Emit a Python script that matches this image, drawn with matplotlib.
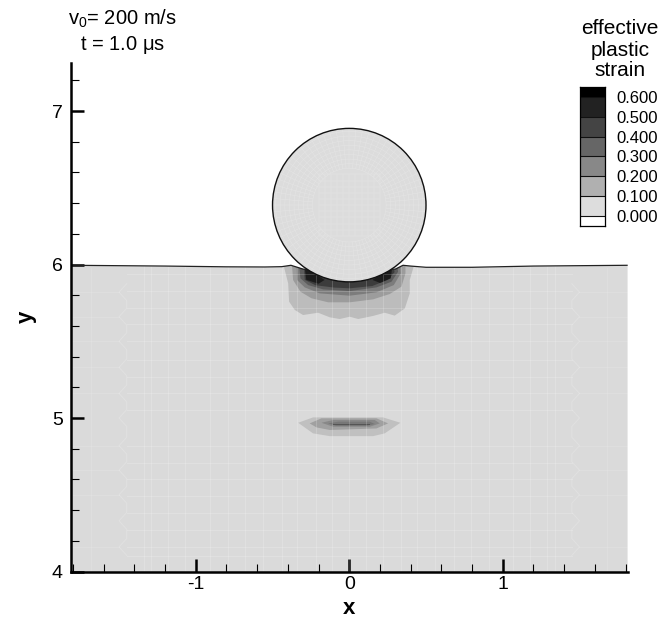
import numpy as np
import matplotlib
matplotlib.use("Agg")
import matplotlib.pyplot as plt
from matplotlib.patches import Circle, Polygon

plt.rcParams['font.family'] = ['Liberation Sans', 'DejaVu Sans']
plt.rcParams['mathtext.fontset'] = 'custom'
plt.rcParams['mathtext.rm'] = 'Liberation Sans'

# surface of the plate
surface_x = [-1.81, -1.2, -0.8, -0.55, -0.44, -0.38, -0.30, 0.30, 0.35, 0.40, 0.5, 0.8, 1.2, 1.81]
surface_y = [5.995, 5.99, 5.985, 5.984, 5.986, 5.995, 5.97, 5.97, 5.995, 5.99, 5.982, 5.982, 5.99, 5.995]

# sphere
sphere_x = 0.0
sphere_y = 6.387
sphere_r = 0.5

# strain bands under the contact
band1_x = [-0.442, -0.398, -0.392, -0.355, -0.301, -0.203, -0.127, -0.062, 0.003, 0.058, 0.155, 0.231, 0.296, 0.362, 0.394, 0.394, 0.438]
band1_y = [6.05, 5.877, 5.758, 5.704, 5.671, 5.686, 5.656, 5.645, 5.660, 5.645, 5.665, 5.686, 5.667, 5.714, 5.812, 5.899, 6.05]
band2_x = [-0.377, -0.366, -0.318, -0.246, -0.138, 0.003, 0.155, 0.264, 0.340, 0.366, 0.366]
band2_y = [6.05, 5.899, 5.823, 5.780, 5.754, 5.754, 5.773, 5.808, 5.856, 5.942, 6.05]
band3_x = [-0.344, -0.340, -0.290, -0.192, 0.003, 0.177, 0.290, 0.335, 0.329]
band3_y = [6.05, 5.899, 5.851, 5.812, 5.797, 5.819, 5.866, 5.942, 6.05]
band4_x = [-0.333, -0.318, -0.268, -0.170, 0.003, 0.177, 0.275, 0.318, 0.307]
band4_y = [6.05, 5.910, 5.866, 5.838, 5.827, 5.851, 5.888, 5.953, 6.05]
band5_x = [-0.30, -0.29, -0.22, -0.10, 0.003, 0.15, 0.25, 0.295, 0.28]
band5_y = [6.05, 5.90, 5.865, 5.85, 5.845, 5.86, 5.90, 5.95, 6.05]
band6a_x = [-0.29, -0.28, -0.20, -0.16]
band6a_y = [5.98, 5.90, 5.875, 5.90]
band6b_x = [0.15, 0.20, 0.27, 0.28]
band6b_y = [5.90, 5.88, 5.91, 5.98]

# strain bands of the second spot
spot1_x = [-0.333, -0.236, 0.220, 0.333, 0.231, 0.155, -0.127, -0.236]
spot1_y = [4.969, 5.004, 5.004, 4.969, 4.900, 4.882, 4.882, 4.900]
spot2_x = [-0.258, -0.181, 0.177, 0.253, 0.177, -0.127, -0.214]
spot2_y = [4.965, 4.998, 4.998, 4.965, 4.932, 4.922, 4.939]
spot3_x = [-0.181, -0.105, 0.166, 0.199, 0.134, -0.105]
spot3_y = [4.969, 4.987, 4.987, 4.965, 4.943, 4.943]
spot4_x = [-0.138, -0.073, 0.134, 0.166, 0.112, -0.084]
spot4_y = [4.965, 4.976, 4.976, 4.961, 4.948, 4.948]
spot5_x = [-0.105, 0.134, 0.134, -0.105]
spot5_y = [4.961, 4.961, 4.952, 4.952]

# mesh lines of the plate
mesh_x = [0.11, 0.22, 0.34, 0.44, 0.56, 0.68, 0.79, 0.91, 1.07, 1.18, 1.29, 1.34]
mesh_y = [4.10, 4.16, 4.27, 4.38, 4.49, 4.60, 4.71, 4.82, 5.05, 5.16, 5.27, 5.38, 5.50, 5.61, 5.72, 5.83, 5.94]
outer_x = [1.68]
outer_y = [4.16, 4.50, 4.66, 4.82, 5.16, 5.33, 5.50, 5.66, 5.82]
zigzag_x = [1.45, 1.50, 1.45, 1.45, 1.50, 1.45, 1.45, 1.50, 1.45, 1.45, 1.50, 1.45, 1.45, 1.50, 1.45, 1.45,
            1.50, 1.45, 1.45, 1.50, 1.45, 1.45, 1.50, 1.45, 1.45, 1.50, 1.45, 1.45, 1.50, 1.45, 1.45, 1.50, 1.45]
zigzag_y = [4.105, 4.16, 4.215, 4.275, 4.33, 4.385, 4.445, 4.50, 4.555, 4.605, 4.66, 4.715, 4.765, 4.82, 4.875, 4.945,
            5.00, 5.055, 5.105, 5.16, 5.215, 5.275, 5.33, 5.385, 5.445, 5.50, 5.555, 5.605, 5.66, 5.715, 5.765, 5.82, 5.875]

# legend
levels = [-0.0525, 0.0, 0.1, 0.2, 0.3, 0.4, 0.5, 0.6, 0.6525]
level_colors = ['#ffffff', '#dddddd', '#b0b0b0', '#888888', '#666666', '#444444', '#222222', '#000000']
level_ticks = [0.0, 0.1, 0.2, 0.3, 0.4, 0.5, 0.6]
plate_color = '#dadada'

W, H = 662, 621
fig = plt.figure(figsize=(W / 100, H / 100), dpi=100)
ax = fig.add_axes([71 / W, (H - 571.5) / H, (628 - 71) / W, (571.5 - 63) / H])
ax.set_xlim(-1.813, 1.816)
ax.set_ylim(4, 7.313)

sx = np.array(surface_x)
sy = np.array(surface_y)
ax.fill_between(sx, 4, sy, color=plate_color, lw=0, zorder=1)
clip = Polygon(list(zip(surface_x, surface_y)) + [(1.81, 4), (-1.81, 4)], transform=ax.transData)

bands = [(band1_x, band1_y, '#bcbcbc'), (band2_x, band2_y, '#9c9c9c'), (band3_x, band3_y, '#7c7c7c'),
         (band4_x, band4_y, '#5c5c5c'), (band5_x, band5_y, '#3c3c3c'), (band6a_x, band6a_y, '#1c1c1c'),
         (band6b_x, band6b_y, '#1c1c1c'), (spot1_x, spot1_y, '#c0c0c0'), (spot2_x, spot2_y, '#a0a0a0'),
         (spot3_x, spot3_y, '#888888'), (spot4_x, spot4_y, '#777777'), (spot5_x, spot5_y, '#555555')]
for bx, by, c in bands:
    p = ax.fill(bx, by, color=c, lw=0, zorder=2)[0]
    p.set_clip_path(clip)

for sign in [-1, 1]:
    for m in mesh_x:
        ax.plot([sign * m, sign * m], [4, np.interp(sign * m, sx, sy)], color='white', alpha=0.18, lw=0.7, zorder=3)
    for m in outer_x:
        ax.plot([sign * m, sign * m], [4, 5.98], color='white', alpha=0.12, lw=0.7, zorder=3)
    for m in outer_y:
        ax.plot([sign * 1.5, sign * 1.81], [m, m], color='white', alpha=0.12, lw=0.7, zorder=3)
    ax.plot(sign * np.array(zigzag_x), zigzag_y, color='white', alpha=0.18, lw=0.7, zorder=3)
ax.plot([0, 0], [4, 5.9], color='white', alpha=0.18, lw=0.7, zorder=3)
for m in mesh_y:
    ax.plot([-1.45, 1.45], [m, m], color='white', alpha=0.18, lw=0.7, zorder=3)

ax.plot(surface_x, surface_y, color='#222222', lw=0.9, zorder=4)

# sphere with its mesh
ball = Circle((sphere_x, sphere_y), sphere_r, fc='#dcdcdc', ec='none', zorder=5)
ax.add_patch(ball)
t = np.linspace(0, 2 * np.pi, 361)
for r in [0.24, 0.27, 0.30, 0.33, 0.36, 0.39, 0.42, 0.45, 0.48]:
    ax.plot(sphere_x + r * np.cos(t), sphere_y + r * np.sin(t), color='#e5e5e5', lw=0.35, zorder=6)
for a in np.linspace(0, 2 * np.pi, 72, endpoint=False):
    ax.plot([sphere_x + 0.24 * np.cos(a), sphere_x + 0.5 * np.cos(a)],
            [sphere_y + 0.24 * np.sin(a), sphere_y + 0.5 * np.sin(a)], color='#e5e5e5', lw=0.35, zorder=6)
for d in np.linspace(-0.2, 0.2, 11):
    ax.plot([sphere_x + d, sphere_x + d], [sphere_y - 0.2, sphere_y + 0.2], color='#e5e5e5', lw=0.35, zorder=6)
    ax.plot([sphere_x - 0.2, sphere_x + 0.2], [sphere_y + d, sphere_y + d], color='#e5e5e5', lw=0.35, zorder=6)
ax.add_patch(Circle((sphere_x, sphere_y), sphere_r, fc='none', ec='#111111', lw=1.0, zorder=7))

for s in ['top', 'right']:
    ax.spines[s].set_visible(False)
for s in ['left', 'bottom']:
    ax.spines[s].set_linewidth(1.8)
    ax.spines[s].set_zorder(10)
ax.set_xticks([-1, 0, 1])
ax.set_xticklabels(['-1', '0', '1'])
ax.set_yticks([4, 5, 6, 7])
ax.set_xticks(np.arange(-1.8, 1.81, 0.2), minor=True)
ax.set_yticks(np.arange(4.2, 7.3, 0.2), minor=True)
ax.tick_params(which='major', direction='in', length=9.5, width=1.8, labelsize=14, zorder=10)
ax.tick_params(axis='x', which='major', pad=3)
ax.tick_params(axis='y', which='major', pad=6)
ax.tick_params(which='minor', direction='in', length=5.5, width=0.8)
for tk in ax.xaxis.get_minorticklines() + ax.yaxis.get_minorticklines():
    tk.set_zorder(10)
ax.set_xlabel('x', fontsize=16, fontweight='bold', labelpad=4)
ax.set_ylabel('y', fontsize=16, fontweight='bold', labelpad=11)
ax.patch.set_alpha(0)

fig.text(122 / W, 1 - 19 / H, 'v$_0$= 200 m/s', fontsize=14.5, ha='center', va='center')
fig.text(123 / W, 1 - 45 / H, 't = 1.0 $\\mathrm{\\mu}$s', fontsize=14.5, ha='center', va='center')

# legend
lax = fig.add_axes([580 / W, (H - 226) / H, 25 / W, 139 / H])
lax.set_xlim(0, 1)
lax.set_ylim(levels[0], levels[-1])
lax.pcolormesh([0, 1], levels, np.arange(8).reshape(8, 1), cmap=matplotlib.colors.ListedColormap(level_colors),
               edgecolors='none')
lax.hlines(level_ticks, 0, 1, color='#111111', lw=0.8)
lax.set_xticks([])
lax.set_yticks(level_ticks)
lax.set_yticklabels(['%.3f' % v for v in level_ticks])
lax.yaxis.tick_right()
lax.tick_params(axis='y', length=0, labelsize=12, pad=8.5)
for s in lax.spines.values():
    s.set_linewidth(0.9)
fig.text(620 / W, 1 - 29 / H, 'effective', fontsize=15, ha='center', va='center')
fig.text(620 / W, 1 - 51 / H, 'plastic', fontsize=15, ha='center', va='center')
fig.text(620 / W, 1 - 71 / H, 'strain', fontsize=15, ha='center', va='center')

fig.savefig("out.png", dpi=100)
